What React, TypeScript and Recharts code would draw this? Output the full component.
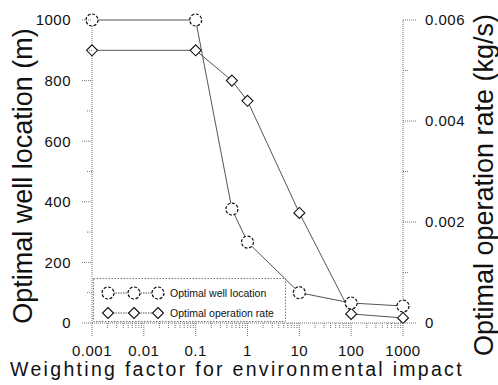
import { LineChart, Line, XAxis, YAxis, Legend } from "recharts"

// factor values on the log axis and the two result series
const FACTORS = [0.001, 0.1, 0.5, 1, 10, 100, 1000]
const WELL_LOCATION = [1000, 1000, 376, 267, 100, 66, 56]
const OPERATION_RATE = [0.0054, 0.0054, 0.0048, 0.0044, 0.00218, 0.00018, 0.0001]

const SERIES_NAMES = ["Optimal well location", "Optimal operation rate"]

const X_MAJOR = [0.001, 0.01, 0.1, 1, 10, 100, 1000]
const X_MAJOR_LABELS = ["0.001", "0.01", "0.1", "1", "10", "100", "1000"]
const LEFT_TICKS = [0, 100, 200, 300, 400, 500, 600, 700, 800, 900, 1000]
const LEFT_MAJOR = [0, 200, 400, 600, 800, 1000]
const RIGHT_TICKS = [0, 0.001, 0.002, 0.003, 0.004, 0.005, 0.006]
const RIGHT_MAJOR_LABELS: Record<string, string> = {
  "0": "0",
  "0.002": "0.002",
  "0.004": "0.004",
  "0.006": "0.006",
}

// minor ticks 2..9 inside every decade
const X_TICKS: number[] = []
X_MAJOR.forEach((d, i) => {
  X_TICKS.push(d)
  if (i < X_MAJOR.length - 1) {
    for (let m = 2; m <= 9; m++) X_TICKS.push(+(d * m).toPrecision(6))
  }
})

const data = FACTORS.map((x, i) => ({
  x,
  loc: WELL_LOCATION[i],
  rate: OPERATION_RATE[i],
}))

const FONT = "'Liberation Sans', Arial, Helvetica, sans-serif"
const AXIS_GRAY = "#777"
const LINE_GRAY = "#555"
const INK = "#111"

function XTick(props: any) {
  const { x, y, payload } = props
  const v = payload.value as number
  const idx = X_MAJOR.findIndex((m) => Math.abs(Math.log10(m) - Math.log10(v)) < 1e-6)
  const major = idx >= 0
  return (
    <g>
      <line x1={x} x2={x} y1={y} y2={y + (major ? 13 : 6)} stroke={AXIS_GRAY} strokeDasharray="1 1" />
      {major && (
        <text x={x} y={y + 33} textAnchor="middle" fontSize={15} fontFamily={FONT} fill={INK} letterSpacing={0.5}>
          {X_MAJOR_LABELS[idx]}
        </text>
      )}
    </g>
  )
}

function LeftTick(props: any) {
  const { x, y, payload } = props
  const v = payload.value as number
  const major = LEFT_MAJOR.includes(v)
  return (
    <g>
      <line x1={x - (major ? 10 : 5)} x2={x} y1={y} y2={y} stroke={AXIS_GRAY} strokeDasharray="1 1" />
      {major && (
        <text x={x - 21} y={y} dy="0.36em" textAnchor="end" fontSize={15} fontFamily={FONT} fill={INK} letterSpacing={0.5}>
          {v}
        </text>
      )}
    </g>
  )
}

function RightTick(props: any) {
  const { x, y, payload } = props
  const label = RIGHT_MAJOR_LABELS[String(+(payload.value as number).toPrecision(6))]
  return (
    <g>
      <line x1={x} x2={x + (label ? 13 : 5)} y1={y} y2={y} stroke={AXIS_GRAY} strokeDasharray="1 1" />
      {label && (
        <text x={x + 22} y={y} dy="0.36em" textAnchor="start" fontSize={15} fontFamily={FONT} fill={INK} letterSpacing={0.5}>
          {label}
        </text>
      )}
    </g>
  )
}

function CircleDot({ cx, cy, size = 6 }: { cx: number; cy: number; size?: number }) {
  return <circle cx={cx} cy={cy} r={size} fill="#fff" stroke={INK} strokeWidth={1.2} strokeDasharray="3 1.6" />
}

function DiamondDot({ cx, cy, size = 5.5 }: { cx: number; cy: number; size?: number }) {
  return (
    <path
      d={`M${cx},${cy - size} L${cx + size},${cy} L${cx},${cy + size} L${cx - size},${cy} Z`}
      fill="#fff"
      stroke={INK}
      strokeWidth={1.1}
    />
  )
}

function LegendBox() {
  const rows = [
    { name: SERIES_NAMES[0], y: 15, Mark: CircleDot },
    { name: SERIES_NAMES[1], y: 35, Mark: DiamondDot },
  ]
  return (
    <svg width={194} height={45} style={{ display: "block" }}>
      <rect x={0.5} y={0.5} width={192} height={43} fill="#fff" stroke={AXIS_GRAY} strokeDasharray="1.5 1.5" />
      {rows.map(({ name, y, Mark }) => (
        <g key={name}>
          <line x1={15} x2={65} y1={y} y2={y} stroke={LINE_GRAY} strokeDasharray="1.5 1" />
          <Mark cx={15} cy={y} />
          <Mark cx={41} cy={y} />
          <Mark cx={65} cy={y} />
          <text x={77} y={y} dy="0.36em" fontSize={10.5} fontFamily={FONT} fill={INK}>
            {name}
          </text>
        </g>
      ))}
    </svg>
  )
}

export default function App() {
  return (
    <div style={{ position: "absolute", left: 0, top: 0, width: 498, height: 385, background: "#fff" }}>
      <LineChart width={498} height={385} data={data} margin={{ top: 20, right: 0, bottom: 0, left: 0 }}>
        <XAxis
          dataKey="x"
          type="number"
          scale="log"
          domain={[0.001, 1000]}
          ticks={X_TICKS}
          interval={0}
          height={62}
          tickSize={0}
          tickMargin={0}
          tick={(p: any) => <XTick {...p} />}
          axisLine={{ stroke: AXIS_GRAY, strokeDasharray: "1 1" }}
          tickLine={false}
        />
        <YAxis
          yAxisId="left"
          domain={[0, 1000]}
          ticks={LEFT_TICKS}
          interval={0}
          width={92}
          tickSize={0}
          tickMargin={0}
          tick={(p: any) => <LeftTick {...p} />}
          axisLine={{ stroke: AXIS_GRAY, strokeDasharray: "1 1" }}
          tickLine={false}
        />
        <YAxis
          yAxisId="right"
          orientation="right"
          domain={[0, 0.006]}
          ticks={RIGHT_TICKS}
          interval={0}
          width={95}
          tickSize={0}
          tickMargin={0}
          tick={(p: any) => <RightTick {...p} />}
          axisLine={{ stroke: AXIS_GRAY, strokeDasharray: "1 1" }}
          tickLine={false}
        />
        <Legend
          layout="vertical"
          align="center"
          verticalAlign="middle"
          content={() => <LegendBox />}
          wrapperStyle={{ left: 93, top: 278, width: 194, height: 45 }}
        />
        <Line
          yAxisId="right"
          dataKey="rate"
          name={SERIES_NAMES[1]}
          stroke={LINE_GRAY}
          strokeWidth={1}
          isAnimationActive={false}
          dot={(p: any) => <DiamondDot key={`d${p.index}`} cx={p.cx} cy={p.cy} />}
        />
        <Line
          yAxisId="left"
          dataKey="loc"
          name={SERIES_NAMES[0]}
          stroke={LINE_GRAY}
          strokeWidth={1}
          isAnimationActive={false}
          dot={(p: any) => <CircleDot key={`c${p.index}`} cx={p.cx} cy={p.cy} />}
        />
      </LineChart>
      <svg width={498} height={385} style={{ position: "absolute", left: 0, top: 0, pointerEvents: "none" }}>
        <text
          transform="translate(32,176) rotate(-90)"
          textAnchor="middle"
          fontSize={27}
          fontFamily={FONT}
          fill={INK}
        >
          Optimal well location (m)
        </text>
        <text
          transform="translate(493,185) rotate(-90)"
          textAnchor="middle"
          fontSize={27}
          fontFamily={FONT}
          fill={INK}
        >
          Optimal operation rate (kg/s)
        </text>
        <text x={237} y={376} textAnchor="middle" fontSize={19.5} letterSpacing={2.3} fontFamily={FONT} fill={INK}>
          Weighting factor for environmental impact
        </text>
      </svg>
    </div>
  )
}
